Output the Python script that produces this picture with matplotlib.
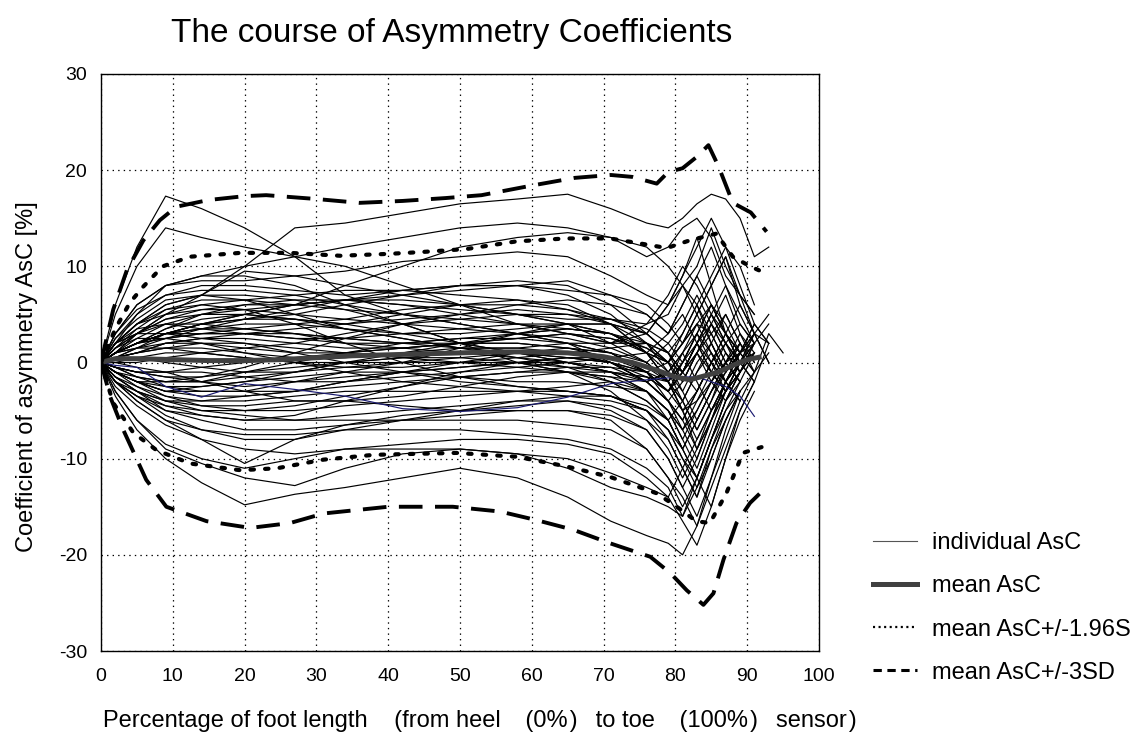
import numpy as np
import matplotlib
matplotlib.use("Agg")
import matplotlib.pyplot as plt
from matplotlib.lines import Line2D

N = np.nan

title = "The course of Asymmetry Coefficients"
xlabel = ("Percentage of foot length    (from heel   \u2009(0%\u200a)  \u2009to toe   \u2009(100%\u200a)"
          "  \u2009sensor\u200a)")
ylabel = "Coefficient of asymmetry AsC [%]"
legend_labels = ["individual AsC", "mean AsC", "mean AsC+/-1.96SD", "mean AsC+/-3SD"]
x_ticks = [0, 10, 20, 30, 40, 50, 60, 70, 80, 90, 100]
y_ticks = [-30, -20, -10, 0, 10, 20, 30]

# sample positions (% of foot length) of the individual curves
ind_x = [0, 2, 5, 9, 14, 20, 27, 34, 42, 50, 58, 65, 71, 76, 79, 81, 83, 85, 87, 89, 91, 93, 95]

ind_curves = [
    [0, 6, 12, 17.3, 16, 14, 11, 7, 5, 4, 3, 2, 1, -1, -3, -5, -4, -2, 0, 1, 2, N, N],
    [0, 5, 10, 14, 13, 12, 11, 10, 8, 6, 4, 3, 2, 3, 6, 9, 12, 15, 12, 8, 4, N, N],
    [0, 1, 3, 5, 7, 10, 14, 14.5, 15.5, 16.5, 17, 17.5, 16, 14.5, 14, 15, 16.5, 17.5, 17, 15, 11, 12, N],
    [0, 2, 5, 8, 9, 10, 11, 12, 13, 14, 14.5, 14, 13, 11, 12, 14, 15, 13, 9, 7, 5, N, N],
    [0, 1, 2, 3, 4, 5, 6, 8, 10, 12, 13, 13.5, 13, 12, 10, 8, 6, 9, 12, 10, 6, N, N],
    [0, 3, 6, 8, 8.5, 8.5, 9, 9.5, 10.5, 11, 11.5, 11, 9, 7, 6, 8, 10, 14, 10, 7, 5, N, N],
    [0, 2, 4, 6, 7, 9.5, 9, 8, 7, 6, 5, 4, 3, 1, 0, 2, 4, 6, 3, 1, N, N, N],
    [0, 3, 5.5, 7, 7.5, 7.5, 7, 6, 5, 4, 3, 2, 0, -2, -4, -6, -3, 0, 3, 1, N, N, N],
    [0, 2.5, 5, 7, 8, 8, 7.5, 7, 7.5, 8, 8.5, 8, 6, 3, 1, -1, 2, 5, 8, 4, 2, N, N],
    [0, 2, 4, 6, 7, 7, 6.5, 5.5, 4, 2, 0, -1, -3, -6, -9, -12, -9, -5, -2, 0, N, N, N],
    [0, 1.5, 3.5, 5.5, 6.5, 6.5, 6, 6.5, 7, 7.5, 8, 8.5, 7, 5, 3, 6, 9, 6, 3, 1, -1, N, N],
    [0, 2, 4, 5, 5.5, 5.5, 5, 4.5, 4, 3.5, 3, 2.5, 1.5, 0, -2, -5, -8, -5, -2, 0, 1, N, N],
    [0, 1, 2.5, 4, 5, 5.5, 6, 6.5, 6, 5, 4, 3, 2, 4, 7, 10, 8, 5, 2, 0, N, N, N],
    [0, 1.5, 3, 4.5, 5, 5, 4.5, 4, 4.5, 5, 5.5, 5, 4, 2, 0, -2, 1, 4, 7, 3, 0, N, N],
    [0, 1, 2, 3, 4, 4.5, 5, 6, 7, 8, 8, 7, 5, 2, -1, -4, -7, -4, 0, 2, N, N, N],
    [0, 1, 2, 3, 3.5, 4, 4, 3.5, 3, 3, 3.5, 4, 4, 3, 1, 3, 6, 3, 0, -2, N, N, N],
    [0, 2, 3.5, 4, 3.5, 3, 2.5, 2, 2, 2.5, 3, 3.5, 3, 1, -2, -5, -3, 0, 2, 4, 2, N, N],
    [0, 1, 2, 3, 3, 3, 3.5, 4, 5, 6, 6.5, 6, 4, 1, -2, 1, 4, 1, -2, 0, 3, 5, N],
    [0, 0.5, 1, 2, 2.5, 2.5, 2, 1.5, 1.5, 2, 2.5, 3, 2.5, 1, 0, 3, 6, 2, -1, 1, 4, 2, N],
    [0, 1, 1.5, 2, 2, 1.5, 1, 1, 1.5, 2, 2, 1.5, 0.5, -1, -3, -1, 2, 4, 1, -1, 2, N, N],
    [0, 0.5, 1, 1.5, 1.5, 1, 0.5, 0.5, 1, 1.5, 1.5, 1, 0, -2, -4, -2, 1, -1, -3, 0, 3, 2, N],
    [0, 1, 1.5, 1.5, 1, 0.5, 0, 0, 0.5, 1, 1, 0.5, 0, -1, 0, 2, 4, 3, 0, -2, 1, N, N],
    [0, 0, 0.5, 1, 1, 0.5, 0, -0.5, -0.5, 0, 0.5, 1, 1.5, 2, 1, -1, 1, 3, 5, 2, 0, N, N],
    [0, 0.5, 0.5, 0, -0.5, -1, -1, -0.5, 0, 0.5, 1, 1, 0, -2, -4, -6, -3, 0, -2, -4, -1, N, N],
    [0, -0.5, -1, -1, -0.5, 0, 0.5, 1, 1.5, 2, 2.5, 3, 2.5, 1.5, 0, -1, 2, 5, 3, 0, N, N, N],
    [0, -1, -1.5, -2, -2, -1.5, -1, 0, 1, 2, 3, 3.5, 3, 2, 0, -3, -6, -3, 0, 2, N, N, N],
    [0, -0.5, -1, -1.5, -2, -2.5, -2, -1.5, -1, -0.5, 0, 0.5, 0, -1, -3, -1, 1, -2, -4, -1, 2, N, N],
    [0, -1, -2, -2.5, -2.5, -2, -1.5, -1, -1, -1.5, -2, -2, -2.5, -3, -5, -8, -5, -2, 1, -1, N, N, N],
    [0, -1, -2, -3, -3, -3, -3, -2.5, -2, -1.5, -1, -0.5, -0.5, -1, -2, 0, 2, -1, -3, 0, 2, N, N],
    [0, -1.5, -2.5, -3.5, -4, -4, -3.5, -3, -3, -3, -3, -3, -3.5, -5, -7, -10, -12, -8, -4, -1, N, N, N],
    [0, -1, -2, -3.5, -4.5, -5, -5, -4.5, -4, -3.5, -3, -2.5, -2, -3, -5, -7, -4, -1, 2, 0, N, N, N],
    [0, -2, -3, -4, -4.5, -4.5, -4, -4, -4.5, -5, -5, -5, -5.5, -7, -10, -13, -10, -6, -2, 0, N, N, N],
    [0, -1, -2.5, -4, -5, -5.5, -6, -5.5, -5, -4.5, -4, -4, -4.5, -6, -8, -11, -14, -10, -6, -3, -1, N, N],
    [0, -2, -3.5, -5, -5.5, -6, -6, -6, -6, -6, -6, -6.5, -7, -9, -12, -15, -12, -8, -5, -3, N, N, N],
    [0, -1.5, -3, -5, -6, -7, -7, -6.5, -6, -5.5, -5, -5, -6, -9, -12, -14, -17, -13, -9, -5, -2, N, N],
    [0, -2, -4, -6, -7, -7.5, -7.5, -7, -7, -7, -7.5, -8, -9, -11, -13, -16, -13, -10, -6, -3, N, N, N],
    [0, -2.5, -4.5, -6.5, -8, -9, -9.5, -9, -8.5, -8, -8, -8.5, -9.5, -12, -14, -16.5, -19, -15, -10, -6, -3, N, N],
    [0, -3, -6, -8.5, -10, -11, -10, -9, -9, -9, -9.5, -10, -11.5, -13, -14, -11, -8, -5, -3, -1, N, N, N],
    [0, -3, -6, -9, -10.5, -12, -12.8, -11, -9.5, -9, -9.5, -11, -13, -14, -15, -16, -12, -8, -4, -2, N, N, N],
    [0, -3.5, -7, -10, -12.5, -14.8, -13.7, -13, -12, -11, -12, -14, -16.5, -18, -18.8, -20, -17, -12, -7, -3, N, N, N],
    [0, -2, -4, -6, -8, -10.5, -8, -6.5, -5.5, -5, -4.5, -4, -5, -7, -10, -13, -16, -12, -8, -4, N, N, N],
    [0, -1.5, -3, -4, -4, -3.5, -3, -2, -1, 0, 1, 1.5, 1, -1, -3, 0, 3, 0, -2, 1, N, N, N],
    [0, -0.5, -1.5, -2.5, -3, -3, -2, -1, 0, 1.5, 3, 4, 4, 3, 1, -2, 1, 4, 2, -1, N, N, N],
    [0, 1, 2, 2.5, 3, 3.5, 4, 4.5, 5.5, 6, 6, 5.5, 4, 1, -2, -5, -9, -6, -2, 1, N, N, N],
    [0, 2, 3, 3, 2.5, 2, 1, 0, -1, -2, -2.5, -3, -3.5, -5, -8, -11, -14, -9, -5, -2, N, N, N],
    [0, 1.5, 2.5, 2.5, 2, 1, 0, -1, -2, -2.5, -3, -3.5, -4, -5, -7, -9, -6, -3, -1, 1, N, N, N],
    [0, 2, 4, 5.5, 6, 5.5, 4, 2, 0, -1.5, -2.5, -3, -3.5, -5, -7, -10, -13, -9, -6, -3, N, N, N],
    [0, 3, 6, 8, 9, 9, 8, 6, 4, 2, 1, 0, -1, -3, -6, -9, -12, -8, -4, -1, 1, N, N],
    [0, 0.5, 1.5, 2.5, 3.5, 4.5, 5.5, 6.5, 7.5, 8, 8, 7.5, 7, 6, 4, 2, 5, 8, 11, 7, 3, N, N],
    [0, -1, -2, -2, -1.5, -0.5, 1, 2.5, 4, 5, 6, 6.5, 6, 5, 3, 6, 9, 12, 8, 5, 2, 4, N],
    [0, 0, 0, 0.5, 1, 1.5, 2, 3, 4, 4.5, 5, 5, 4.5, 3.5, 2, 0, 3, 6, 4, 1, -1, 1, N],
    [0, 1, 2, 3.5, 4.5, 5, 4.5, 3.5, 2.5, 1.5, 0.5, 0, -1, -3, -5, -7, -5, -2, 0, -2, N, N, N],
    [0, -1, -2, -3, -3.5, -3.5, -3, -2, -1, -0.5, 0, 0, -0.5, -2, -4, -6, -9, -6, -3, 0, 2, N, N],
    [0, 1, 3, 5, 6, 6.5, 7, 7.5, 7.5, 7, 6.5, 5.5, 4.5, 3, 6, 9, 13, 8, 3, 1, N, N, N],
    [0, 2, 3, 4.5, 5.5, 6, 6, 5.5, 5, 4.5, 4, 3.5, 3, 1.5, 0, 2, 5, 8, 11, 6, 3, N, N],
    [0, -2, -3.5, -4.5, -5, -5, -4.5, -3.5, -2.5, -1.5, -1, -1, -1.5, -3, -5, -8, -11, -7, -3, -1, N, N, N],
    [0, 0.5, 1, 2, 2.5, 3, 3, 2.5, 2, 1.5, 1.5, 2, 2, 2, 1, -1, -3, 0, 3, 6, 3, 0, N],
    [0, 1, 2, 3, 3.5, 3.5, 3, 2, 1.5, 1, 0.5, -0.5, -2, -4, -6, -9, -12, -15, -10, -5, -2, N, N],
    [0, -0.5, -1, -1.5, -1.5, -1, -0.5, 0, 0, 0, 0, -0.5, -1, -1.5, -3, -1, 2, 5, 2, 0, -2, 2, N],
    [0, 0.5, 1, 1.5, 2, 2, 1.5, 1, 0.5, 0, -0.5, -1, -1.5, -2, -1, 1, 3, 1, -1, 2, -1, 3, 1],
    [0, 1, 2, 2.5, 3, 3, 2.5, 2.5, 3, 3.5, 4, 4, 3, 1, -1, -3, 0, 2, -1, 1, 3, 0, N],
    [0, -0.5, -1, -1, -1, -1.5, -2, -2, -1.5, -1, -0.5, 0, 0.5, 1, 3, 5, 2, -1, -3, 0, N, N, N],
    [0, 1.5, 3, 4, 4, 3.5, 3, 2.5, 2, 2, 2, 1.5, 1, 0, 2, 4, 7, 4, 1, -1, 1, N, N],
    [0, -1, -2, -3, -2.5, -2, -1, 0, 0.5, 0.5, 0, -1, -2, -4, -6, -4, -1, 1, -2, -4, N, N, N],
    [0, 0.5, 1.5, 3, 4, 4.5, 4.5, 4, 3, 2, 1, 0, -1, -2, -1, 1, -2, -5, -2, 1, 3, N, N],
    [0, -1.5, -3, -4.5, -5.5, -6, -5.5, -4, -2.5, -1, 0, 0.5, 0.5, -0.5, -2, -4, -7, -4, -1, 2, N, N, N],
    [0, 1, 2, 3, 4, 5, 6, 6.5, 6.5, 6, 5, 4, 2, 0, -2, -4, -1, 2, 5, 2, N, N, N],
    [0, 0, -0.5, -1, -2, -3, -4, -4, -3.5, -2.5, -1.5, -1, -1, -1.5, -2, 0, 3, 6, 3, 0, -2, N, N],
    [0, 2.5, 4.5, 6.5, 7, 6.5, 5, 3.5, 2.5, 1.5, 1, 0.5, 0, -1.5, -3, -1, 2, 0, -3, -1, N, N, N],
    [0, -2, -3.5, -5.5, -7, -8, -8, -7, -6, -5, -4, -3.5, -3.5, -4.5, -6, -9, -6, -3, 0, 3, 1, N, N],
    [0, 1, 2, 3.5, 5, 6, 6.5, 6.5, 6, 5.5, 5, 4.5, 4.5, 4, 5, 8, 5, 2, -1, 1, 4, 2, N],
    [0, -0.5, -1.5, -2, -2, -1, 0, 1, 2, 2.5, 2.5, 2, 1, -1, -4, -7, -10, -6, -3, -1, N, N, N],
]
# one curve drawn in dark blue
navy_curve = [0, -0.3, -0.5, -2.5, -3.6, -2.2, -2.8, -3.5, -4.8, -5.1, -4.7, -3.6, -2.2, -1.8,
              -1.6, -1.5, -1.5, -2, -2.5, -3.5, -5.6, N, N]

mean_x = [0, 2, 5, 10, 15, 20, 25, 30, 35, 40, 45, 50, 55, 60, 65, 70, 74, 77, 80, 82, 84, 86, 88, 90, 92]
mean_y = [0, 0.4, 0.4, 0.3, 0.2, 0.2, 0.3, 0.5, 0.7, 0.8, 0.9, 1.0, 1.1, 1.1, 1.0, 0.6, 0.0, -0.7,
          -1.5, -1.8, -1.4, -1.0, -0.3, 0.3, 0.6]

p196_x = [0, 2, 4, 5.9, 8.6, 12.4, 19.4, 26.3, 33.3, 40.2, 44.9, 50.9, 57.9, 64.8, 70.9, 76.5, 78.8,
          82, 85.7, 88, 90.4, 92.5]
p196_y = [0, 3.5, 6.2, 7.9, 10, 11, 11.4, 11.4, 11.1, 11.3, 11.5, 11.8, 12.6, 12.9, 12.9, 12.2, 11.9,
          12.7, 13.4, 11, 10, 9.3]
m196_x = [0, 1.7, 4.5, 7.7, 12.4, 19.4, 24.5, 31, 38, 49.5, 57.9, 64.8, 70.9, 77.4, 80.2, 82.9, 84.8,
          87.1, 89.4, 92]
m196_y = [0, -4.2, -7.3, -9.1, -10.5, -11.2, -11, -10.1, -9.6, -9.4, -9.8, -10.8, -11.9, -13.6, -15,
          -16.5, -16.7, -13.6, -9.4, -8.8]

p3_x = [0, 1.7, 3.6, 5.9, 8.2, 10.5, 15, 20, 23, 30, 36, 42, 48, 53, 60, 66, 71, 74, 77.4, 79, 81, 83,
        84.6, 86, 88, 90.5, 92.7]
p3_y = [0, 5.5, 9.6, 12.7, 14.8, 16.2, 16.9, 17.3, 17.4, 17.0, 16.6, 16.8, 17.1, 17.4, 18.4, 19.2,
        19.5, 19.3, 18.6, 19.8, 20.2, 21.4, 22.6, 20.4, 16.6, 15.6, 13.6]
m3_x = [0, 1.3, 3.1, 6.3, 9.1, 14.7, 20.8, 26.3, 31, 40, 49, 55.6, 60.7, 65.8, 70.9, 76.5, 79.3, 81.6,
        83.9, 85.3, 86.7, 88.5, 90.4, 92.2]
m3_y = [0, -3.6, -7, -12.2, -15, -16.5, -17.2, -16.7, -15.7, -15, -15, -15.5, -16.4, -17.4, -18.8,
        -20.2, -21.9, -23.7, -25.2, -24, -20.5, -16.7, -14.6, -13.3]

plt.rcParams["font.family"] = ["Liberation Sans", "DejaVu Sans"]
plt.rcParams["lines.scale_dashes"] = False
plt.rcParams["axes.unicode_minus"] = False

W, H = 1130, 734
fig = plt.figure(figsize=(W / 100, H / 100), dpi=100)
ax = fig.add_axes([101 / W, 1 - 651 / H, 718 / W, 577 / H])

for c in ind_curves:
    ax.plot(ind_x, c, color="black", lw=0.85, zorder=2)
ax.plot(ind_x, navy_curve, color="#1a1a70", lw=0.85, zorder=2)

ax.plot(mean_x, mean_y, color="#404040", lw=3.6, solid_capstyle="butt", zorder=4)
dot_kw = dict(color="black", lw=3.0, dashes=(2.5, 8), dash_capstyle="round", zorder=5)
dash_kw = dict(color="black", lw=2.8, dashes=(17, 9), zorder=5)
ax.plot(p196_x, p196_y, **dot_kw)
ax.plot(m196_x, m196_y, **dot_kw)
ax.plot(p3_x, p3_y, **dash_kw)
ax.plot(m3_x, m3_y, **dash_kw)

ax.set_xlim(0, 100)
ax.set_ylim(-30, 30)
ax.set_xticks(x_ticks)
ax.set_yticks(y_ticks)
ax.tick_params(length=0, labelsize=14, pad=12)
ax.tick_params(axis="y", pad=10)
ax.grid(True, color="black", lw=0.9, linestyle=(0, (1, 3)))
ax.set_axisbelow(True)
for s in ax.spines.values():
    s.set_linewidth(1.0)

ax.set_xlabel(xlabel, fontsize=17)
ax.xaxis.label.set_ha("left")
ax.xaxis.label.set_va("baseline")
ax.xaxis.set_label_coords((103 - 101) / 718, (651 - 727) / 577)
ax.set_ylabel(ylabel, fontsize=17)
ax.yaxis.label.set_va("baseline")
ax.yaxis.set_label_coords((33 - 101) / 718, (651 - 377) / 577)

fig.text(452 / W, 1 - 42 / H, title, fontsize=24, ha="center", va="baseline")

handles = [
    Line2D([], [], color="#555555", lw=0.8),
    Line2D([], [], color="#404040", lw=3.6),
    Line2D([], [], color="black", lw=1.6, dashes=(1.5, 2.5)),
    Line2D([], [], color="black", lw=2.2, dashes=(6, 4)),
]
fig.legend(handles, legend_labels, loc="upper left", bbox_to_anchor=(873 / W, 1 - 532 / H),
           frameon=False, fontsize=17, handlelength=1.86, handletextpad=0.64, labelspacing=0.9,
           borderaxespad=0, borderpad=0)

fig.savefig("out.png", dpi=100)
